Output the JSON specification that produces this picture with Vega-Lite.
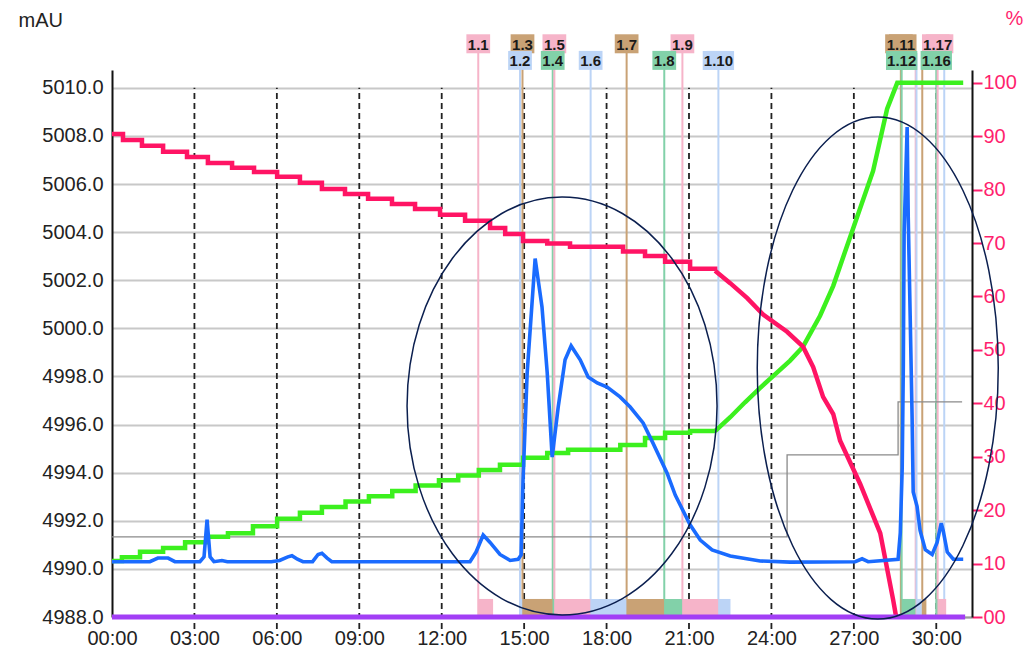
{
  "$schema": "https://vega.github.io/schema/vega-lite/v6.json",
  "width": 860,
  "height": 547,
  "autosize": {"type": "none"},
  "padding": {"left": 112, "top": 70, "right": 53, "bottom": 36},
  "background": "white",
  "config": {"view": {"stroke": null}, "font": "Liberation Sans"},
  "datasets": {
    "g3": [{"t": 3}, {"t": 6}, {"t": 9}, {"t": 12}, {"t": 15}, {"t": 18}, {"t": 21}, {"t": 24}, {"t": 27}, {"t": 30}],
    "fr": [
      {"id": "1.1", "n": 1, "t": 13.33, "end": 13.87},
      {"id": "1.2", "n": 2, "t": 14.85, "end": 14.94},
      {"id": "1.3", "n": 3, "t": 14.94, "end": 16.04},
      {"id": "1.4", "n": 4, "t": 16.04, "end": 16.1},
      {"id": "1.5", "n": 5, "t": 16.1, "end": 17.42},
      {"id": "1.6", "n": 6, "t": 17.42, "end": 18.73},
      {"id": "1.7", "n": 7, "t": 18.73, "end": 20.1},
      {"id": "1.8", "n": 8, "t": 20.1, "end": 20.76},
      {"id": "1.9", "n": 9, "t": 20.76, "end": 22.07},
      {"id": "1.10", "n": 10, "t": 22.07, "end": 22.51},
      {"id": "1.11", "n": 11, "t": 28.71, "end": 28.74},
      {"id": "1.12", "n": 12, "t": 28.74, "end": 29.25},
      {"id": "1.13", "n": 13, "t": 29.25, "end": 29.28},
      {"id": "1.14", "n": 14, "t": 29.28, "end": 29.47},
      {"id": "1.15", "n": 15, "t": 29.49, "end": 29.64},
      {"id": "1.16", "n": 16, "t": 30.0, "end": 30.05},
      {"id": "1.17", "n": 17, "t": 30.05, "end": 30.36},
      {"id": "1.18", "n": 18, "t": 30.29, "end": 30.29}
    ],
    "uv": [
      {"t": 0, "v": 4990.3}, {"t": 1.38, "v": 4990.3}, {"t": 1.67, "v": 4990.45}, {"t": 2.04, "v": 4990.45},
      {"t": 2.29, "v": 4990.3}, {"t": 3.2, "v": 4990.3}, {"t": 3.35, "v": 4990.5}, {"t": 3.46, "v": 4992.05},
      {"t": 3.57, "v": 4990.5}, {"t": 3.71, "v": 4990.3}, {"t": 4.0, "v": 4990.35}, {"t": 4.2, "v": 4990.3},
      {"t": 5.8, "v": 4990.3}, {"t": 6.1, "v": 4990.35}, {"t": 6.4, "v": 4990.5}, {"t": 6.55, "v": 4990.55},
      {"t": 6.75, "v": 4990.4}, {"t": 6.95, "v": 4990.3}, {"t": 7.3, "v": 4990.3}, {"t": 7.5, "v": 4990.6},
      {"t": 7.64, "v": 4990.65}, {"t": 7.83, "v": 4990.45}, {"t": 8.0, "v": 4990.3}, {"t": 13.03, "v": 4990.3},
      {"t": 13.25, "v": 4990.7}, {"t": 13.51, "v": 4991.41}, {"t": 13.76, "v": 4991.1}, {"t": 14.12, "v": 4990.6},
      {"t": 14.49, "v": 4990.35}, {"t": 14.78, "v": 4990.4}, {"t": 14.89, "v": 4990.58}, {"t": 14.96, "v": 4993.7},
      {"t": 15.11, "v": 4998.15}, {"t": 15.4, "v": 5002.9}, {"t": 15.65, "v": 5000.89}, {"t": 15.84, "v": 4998.15},
      {"t": 16.02, "v": 4994.65}, {"t": 16.24, "v": 4996.73}, {"t": 16.49, "v": 4998.69}, {"t": 16.71, "v": 4999.27},
      {"t": 17.04, "v": 4998.69}, {"t": 17.33, "v": 4997.98}, {"t": 17.66, "v": 4997.73}, {"t": 18.02, "v": 4997.56},
      {"t": 18.49, "v": 4997.15}, {"t": 18.86, "v": 4996.73}, {"t": 19.33, "v": 4996.07}, {"t": 19.69, "v": 4995.23},
      {"t": 20.2, "v": 4993.99}, {"t": 20.5, "v": 4993.07}, {"t": 21.04, "v": 4991.83}, {"t": 21.41, "v": 4991.2},
      {"t": 21.84, "v": 4990.79}, {"t": 22.5, "v": 4990.54}, {"t": 23.59, "v": 4990.33}, {"t": 24.68, "v": 4990.28},
      {"t": 27.05, "v": 4990.3}, {"t": 27.3, "v": 4990.42}, {"t": 27.52, "v": 4990.3}, {"t": 28.61, "v": 4990.4},
      {"t": 28.69, "v": 4991.5}, {"t": 28.76, "v": 4994.2}, {"t": 28.8, "v": 4998.4}, {"t": 28.83, "v": 5004.0},
      {"t": 28.94, "v": 5008.37}, {"t": 28.98, "v": 5004.6}, {"t": 29.05, "v": 5000.5}, {"t": 29.12, "v": 4996.3},
      {"t": 29.16, "v": 4993.2}, {"t": 29.3, "v": 4992.6}, {"t": 29.41, "v": 4991.6}, {"t": 29.6, "v": 4990.8},
      {"t": 29.85, "v": 4990.6}, {"t": 30.03, "v": 4991.1}, {"t": 30.18, "v": 4991.9}, {"t": 30.25, "v": 4991.6},
      {"t": 30.4, "v": 4990.7}, {"t": 30.62, "v": 4990.4}, {"t": 30.98, "v": 4990.4}
    ],
    "gray": [
      {"t": 0, "v": 4991.33}, {"t": 24.57, "v": 4994.74}, {"t": 28.61, "v": 4996.94}, {"t": 30.94, "v": 4996.94}
    ],
    "base": [{"t": 0, "v": 4988}, {"t": 31.05, "v": 4988}],
    "grad": [
      {"t": 0, "p": 10.5}, {"t": 0.36, "p": 11.2}, {"t": 1.02, "p": 12.2}, {"t": 1.86, "p": 12.9},
      {"t": 2.66, "p": 14.0}, {"t": 3.46, "p": 15.0}, {"t": 4.22, "p": 15.7}, {"t": 5.13, "p": 17.0},
      {"t": 6.01, "p": 18.4}, {"t": 6.84, "p": 19.5}, {"t": 7.64, "p": 20.6}, {"t": 8.5, "p": 21.6},
      {"t": 9.35, "p": 22.6}, {"t": 10.2, "p": 23.6}, {"t": 11.05, "p": 24.6}, {"t": 11.9, "p": 25.6},
      {"t": 12.6, "p": 26.5}, {"t": 13.35, "p": 27.5}, {"t": 14.12, "p": 28.5}, {"t": 14.96, "p": 29.8},
      {"t": 15.84, "p": 30.7}, {"t": 16.6, "p": 31.3}, {"t": 18.5, "p": 32.2}, {"t": 19.4, "p": 33.5},
      {"t": 20.13, "p": 34.5}, {"t": 21.04, "p": 34.8}, {"t": 21.95, "p": 34.8},
      {"t": 22.5, "p": 37.4}, {"t": 23.04, "p": 40.2}, {"t": 23.59, "p": 42.9}, {"t": 24.06, "p": 45.1},
      {"t": 24.68, "p": 48.0}, {"t": 25.15, "p": 50.6}, {"t": 25.77, "p": 56.4}, {"t": 26.25, "p": 62.0},
      {"t": 26.97, "p": 72.7}, {"t": 27.7, "p": 83.5}, {"t": 28.21, "p": 95.1}, {"t": 28.58, "p": 100},
      {"t": 30.98, "p": 100}
    ],
    "cond": [
      {"t": 0, "p": 90.4}, {"t": 0.4, "p": 89.3}, {"t": 1.09, "p": 88.2}, {"t": 1.86, "p": 87.1},
      {"t": 2.73, "p": 86.1}, {"t": 3.49, "p": 85.0}, {"t": 4.37, "p": 84.1}, {"t": 5.17, "p": 83.3},
      {"t": 6.01, "p": 82.4}, {"t": 6.84, "p": 81.3}, {"t": 7.64, "p": 80.1}, {"t": 8.48, "p": 79.2},
      {"t": 9.32, "p": 78.3}, {"t": 10.19, "p": 77.3}, {"t": 11.03, "p": 76.4}, {"t": 11.94, "p": 75.3},
      {"t": 12.85, "p": 74.2}, {"t": 13.76, "p": 72.8}, {"t": 14.31, "p": 71.7}, {"t": 14.96, "p": 70.4},
      {"t": 15.84, "p": 69.9}, {"t": 16.67, "p": 69.3}, {"t": 18.6, "p": 68.4}, {"t": 19.4, "p": 67.6},
      {"t": 20.13, "p": 66.5}, {"t": 21.04, "p": 65.2}, {"t": 21.95, "p": 64.8},
      {"t": 22.5, "p": 62.5}, {"t": 23.12, "p": 59.7}, {"t": 23.7, "p": 56.6}, {"t": 24.57, "p": 53.4},
      {"t": 25.15, "p": 50.6}, {"t": 25.52, "p": 46.8}, {"t": 25.88, "p": 41.2}, {"t": 26.25, "p": 38.0},
      {"t": 26.5, "p": 33.0}, {"t": 27.23, "p": 24.9}, {"t": 27.96, "p": 15.7}, {"t": 28.43, "p": 3.2},
      {"t": 28.54, "p": 0}
    ],
    "ell1": [{"t": 16.38, "v": 4996.77}],
    "ell2": [{"t": 27.87, "v": 4998.35}]
  },
  "encoding": {
    "x": {
      "field": "t", "type": "quantitative",
      "scale": {"domain": [0, 31.3], "nice": false, "zero": false},
      "axis": {
        "values": [0, 3, 6, 9, 12, 15, 18, 21, 24, 27, 30],
        "labelExpr": "(datum.value < 10 ? '0' : '') + datum.value + ':00'",
        "ticks": false, "grid": false, "title": null,
        "labelFontSize": 20, "labelColor": "#222", "labelPadding": 11,
        "domainColor": "#999", "domainWidth": 2,
        "labelFlush": false, "labelOverlap": false
      }
    }
  },
  "resolve": {"scale": {"y": "independent"}},
  "layer": [
    {
      "data": {"name": "g3"},
      "mark": {"type": "rule", "color": "#222", "strokeWidth": 1.8, "strokeDash": [6, 4]},
      "encoding": {
        "y": {"datum": 4987.5, "type": "quantitative", "scale": {"domain": [4988, 5010.74], "nice": false, "zero": false}, "axis": null},
        "y2": {"datum": 5010}
      }
    },
    {
      "data": {"name": "fr"},
      "mark": {"type": "rule", "strokeWidth": 2},
      "encoding": {
        "y": {"datum": 4988, "type": "quantitative", "scale": {"domain": [4988, 5010.74], "nice": false, "zero": false}, "axis": null},
        "y2": {"datum": 5011.45},
        "color": {"field": "id", "type": "nominal", "legend": null,
          "scale": {"domain": ["1.1","1.2","1.3","1.4","1.5","1.6","1.7","1.8","1.9","1.10","1.11","1.12","1.13","1.14","1.15","1.16","1.17","1.18"],
            "range": ["#F6B4C9","#BCD4F6","#C9A275","#82D1A9","#F6B4C9","#BCD4F6","#C9A275","#82D1A9","#F6B4C9","#BCD4F6","#C9A275","#82D1A9","#F6B4C9","#BCD4F6","#C9A275","#82D1A9","#F6B4C9","#BCD4F6"]}}
      }
    },
    {
      "data": {"name": "fr"},
      "mark": {"type": "rect"},
      "encoding": {
        "x2": {"field": "end"},
        "y": {"datum": 4988, "type": "quantitative", "scale": {"domain": [4988, 5010.74], "nice": false, "zero": false}, "axis": null},
        "y2": {"datum": 4988.75},
        "color": {"field": "id", "type": "nominal", "legend": null,
          "scale": {"domain": ["1.1","1.2","1.3","1.4","1.5","1.6","1.7","1.8","1.9","1.10","1.11","1.12","1.13","1.14","1.15","1.16","1.17","1.18"],
            "range": ["#F6B4C9","#BCD4F6","#C9A275","#82D1A9","#F6B4C9","#BCD4F6","#C9A275","#82D1A9","#F6B4C9","#BCD4F6","#C9A275","#82D1A9","#F6B4C9","#BCD4F6","#C9A275","#82D1A9","#F6B4C9","#BCD4F6"]}}
      }
    },
    {
      "data": {"name": "gray"},
      "mark": {"type": "line", "interpolate": "step-after", "color": "#8a8a8a", "strokeWidth": 1.3},
      "encoding": {
        "y": {"field": "v", "type": "quantitative", "scale": {"domain": [4988, 5010.74], "nice": false, "zero": false},
          "axis": {
            "orient": "left",
            "values": [4988, 4990, 4992, 4994, 4996, 4998, 5000, 5002, 5004, 5006, 5008, 5010],
            "format": ".1f", "grid": true, "gridColor": "#c8c8c8", "gridWidth": 2,
            "ticks": false, "labelFontSize": 20, "labelColor": "#222", "labelPadding": 9,
            "domainColor": "#111", "domainWidth": 2,
            "title": "mAU", "titleAngle": 0, "titleX": -94, "titleY": -50, "titleAlign": "left",
            "titleBaseline": "middle", "titleFontSize": 20, "titleFontWeight": "normal", "titleColor": "#222",
            "labelFlush": false, "labelOverlap": false
          }}
      }
    },
    {
      "data": {"name": "grad"},
      "transform": [{"filter": "datum.t <= 21.95"}],
      "mark": {"type": "line", "interpolate": "step-after", "color": "#3CF01E", "strokeWidth": 4.5},
      "encoding": {
        "y": {"field": "p", "type": "quantitative", "scale": {"domain": [0, 102.4], "nice": false, "zero": false}, "axis": null}
      }
    },
    {
      "data": {"name": "grad"},
      "transform": [{"filter": "datum.t >= 21.95"}],
      "mark": {"type": "line", "color": "#3CF01E", "strokeWidth": 4.5},
      "encoding": {
        "y": {"field": "p", "type": "quantitative", "scale": {"domain": [0, 102.4], "nice": false, "zero": false}, "axis": null}
      }
    },
    {
      "data": {"name": "cond"},
      "transform": [{"filter": "datum.t <= 21.95"}],
      "mark": {"type": "line", "interpolate": "step-after", "color": "#FF1464", "strokeWidth": 4.5},
      "encoding": {
        "y": {"field": "p", "type": "quantitative", "scale": {"domain": [0, 102.4], "nice": false, "zero": false},
          "axis": {
            "orient": "right",
            "values": [0, 10, 20, 30, 40, 50, 60, 70, 80, 90, 100],
            "labelExpr": "datum.value == 0 ? '00' : datum.label",
            "grid": false, "tickColor": "#FF1F6E", "tickSize": 10, "tickWidth": 2,
            "labelColor": "#FF1F6E", "labelFontSize": 20, "labelPadding": 1,
            "domainColor": "#111", "domainWidth": 2,
            "title": "%", "titleAngle": 0, "titleX": 33, "titleY": -52, "titleAlign": "left",
            "titleBaseline": "middle", "titleColor": "#FF1F6E", "titleFontSize": 20, "titleFontWeight": "normal",
            "labelFlush": false, "labelOverlap": false
          }}
      }
    },
    {
      "data": {"name": "cond"},
      "transform": [{"filter": "datum.t >= 21.95"}],
      "mark": {"type": "line", "color": "#FF1464", "strokeWidth": 4.5},
      "encoding": {
        "y": {"field": "p", "type": "quantitative", "scale": {"domain": [0, 102.4], "nice": false, "zero": false}, "axis": null}
      }
    },
    {
      "data": {"name": "uv"},
      "mark": {"type": "line", "color": "#1A6BFF", "strokeWidth": 3.6},
      "encoding": {
        "y": {"field": "v", "type": "quantitative", "scale": {"domain": [4988, 5010.74], "nice": false, "zero": false}, "axis": null}
      }
    },
    {
      "data": {"name": "base"},
      "mark": {"type": "line", "color": "#A23EF5", "strokeWidth": 5},
      "encoding": {
        "y": {"field": "v", "type": "quantitative", "scale": {"domain": [4988, 5010.74], "nice": false, "zero": false}, "axis": null}
      }
    },
    {
      "data": {"name": "ell1"},
      "mark": {"type": "point", "filled": false, "color": "#0B1F4F", "strokeWidth": 1.5, "opacity": 1, "size": 96100,
        "shape": "M1,0C1,0.7445 0.5523,1.348 0,1.348C-0.5523,1.348 -1,0.7445 -1,0C-1,-0.7445 -0.5523,-1.348 0,-1.348C0.5523,-1.348 1,-0.7445 1,0Z"},
      "encoding": {
        "y": {"field": "v", "type": "quantitative", "scale": {"domain": [4988, 5010.74], "nice": false, "zero": false}, "axis": null}
      }
    },
    {
      "data": {"name": "ell2"},
      "mark": {"type": "point", "filled": false, "color": "#0B1F4F", "strokeWidth": 1.5, "opacity": 1, "size": 58081,
        "shape": "M1,0C1,1.1505 0.5523,2.083 0,2.083C-0.5523,2.083 -1,1.1505 -1,0C-1,-1.1505 -0.5523,-2.083 0,-2.083C0.5523,-2.083 1,-1.1505 1,0Z"},
      "encoding": {
        "y": {"field": "v", "type": "quantitative", "scale": {"domain": [4988, 5010.74], "nice": false, "zero": false}, "axis": null}
      }
    },
    {
      "data": {"name": "fr"},
      "transform": [{"filter": "indexof(['1.13','1.14','1.15','1.18'], datum.id) < 0 && datum.n % 2 == 1"}],
      "mark": {"type": "point", "filled": true, "opacity": 1, "size": 361, "strokeWidth": 0,
        "shape": "M-1.25,-1L1.25,-1L1.25,1L-1.25,1Z"},
      "encoding": {
        "y": {"datum": 5011.83, "type": "quantitative", "scale": {"domain": [4988, 5010.74], "nice": false, "zero": false}, "axis": null},
        "color": {"field": "id", "type": "nominal", "legend": null,
          "scale": {"domain": ["1.1","1.2","1.3","1.4","1.5","1.6","1.7","1.8","1.9","1.10","1.11","1.12","1.13","1.14","1.15","1.16","1.17","1.18"],
            "range": ["#F6B4C9","#BCD4F6","#C9A275","#82D1A9","#F6B4C9","#BCD4F6","#C9A275","#82D1A9","#F6B4C9","#BCD4F6","#C9A275","#82D1A9","#F6B4C9","#BCD4F6","#C9A275","#82D1A9","#F6B4C9","#BCD4F6"]}}
      }
    },
    {
      "data": {"name": "fr"},
      "transform": [{"filter": "indexof(['1.13','1.14','1.15','1.18'], datum.id) < 0 && datum.n % 2 == 1 && length(datum.id) > 3"}],
      "mark": {"type": "point", "filled": true, "opacity": 1, "size": 361, "strokeWidth": 0,
        "shape": "M-1.65,-1L1.65,-1L1.65,1L-1.65,1Z"},
      "encoding": {
        "y": {"datum": 5011.83, "type": "quantitative", "scale": {"domain": [4988, 5010.74], "nice": false, "zero": false}, "axis": null},
        "color": {"field": "id", "type": "nominal", "legend": null,
          "scale": {"domain": ["1.1","1.2","1.3","1.4","1.5","1.6","1.7","1.8","1.9","1.10","1.11","1.12","1.13","1.14","1.15","1.16","1.17","1.18"],
            "range": ["#F6B4C9","#BCD4F6","#C9A275","#82D1A9","#F6B4C9","#BCD4F6","#C9A275","#82D1A9","#F6B4C9","#BCD4F6","#C9A275","#82D1A9","#F6B4C9","#BCD4F6","#C9A275","#82D1A9","#F6B4C9","#BCD4F6"]}}
      }
    },
    {
      "data": {"name": "fr"},
      "transform": [{"filter": "indexof(['1.13','1.14','1.15','1.18'], datum.id) < 0 && datum.n % 2 == 1"}],
      "mark": {"type": "text", "fontSize": 15, "fontWeight": "bold", "color": "#1a1a1a", "align": "center", "baseline": "middle", "dy": 1},
      "encoding": {
        "y": {"datum": 5011.83, "type": "quantitative", "scale": {"domain": [4988, 5010.74], "nice": false, "zero": false}, "axis": null},
        "text": {"field": "id"}
      }
    },
    {
      "data": {"name": "fr"},
      "transform": [{"filter": "indexof(['1.13','1.14','1.15','1.18'], datum.id) < 0 && datum.n % 2 == 0"}],
      "mark": {"type": "point", "filled": true, "opacity": 1, "size": 361, "strokeWidth": 0,
        "shape": "M-1.25,-1L1.25,-1L1.25,1L-1.25,1Z"},
      "encoding": {
        "y": {"datum": 5011.14, "type": "quantitative", "scale": {"domain": [4988, 5010.74], "nice": false, "zero": false}, "axis": null},
        "color": {"field": "id", "type": "nominal", "legend": null,
          "scale": {"domain": ["1.1","1.2","1.3","1.4","1.5","1.6","1.7","1.8","1.9","1.10","1.11","1.12","1.13","1.14","1.15","1.16","1.17","1.18"],
            "range": ["#F6B4C9","#BCD4F6","#C9A275","#82D1A9","#F6B4C9","#BCD4F6","#C9A275","#82D1A9","#F6B4C9","#BCD4F6","#C9A275","#82D1A9","#F6B4C9","#BCD4F6","#C9A275","#82D1A9","#F6B4C9","#BCD4F6"]}}
      }
    },
    {
      "data": {"name": "fr"},
      "transform": [{"filter": "indexof(['1.13','1.14','1.15','1.18'], datum.id) < 0 && datum.n % 2 == 0 && length(datum.id) > 3"}],
      "mark": {"type": "point", "filled": true, "opacity": 1, "size": 361, "strokeWidth": 0,
        "shape": "M-1.65,-1L1.65,-1L1.65,1L-1.65,1Z"},
      "encoding": {
        "y": {"datum": 5011.14, "type": "quantitative", "scale": {"domain": [4988, 5010.74], "nice": false, "zero": false}, "axis": null},
        "color": {"field": "id", "type": "nominal", "legend": null,
          "scale": {"domain": ["1.1","1.2","1.3","1.4","1.5","1.6","1.7","1.8","1.9","1.10","1.11","1.12","1.13","1.14","1.15","1.16","1.17","1.18"],
            "range": ["#F6B4C9","#BCD4F6","#C9A275","#82D1A9","#F6B4C9","#BCD4F6","#C9A275","#82D1A9","#F6B4C9","#BCD4F6","#C9A275","#82D1A9","#F6B4C9","#BCD4F6","#C9A275","#82D1A9","#F6B4C9","#BCD4F6"]}}
      }
    },
    {
      "data": {"name": "fr"},
      "transform": [{"filter": "indexof(['1.13','1.14','1.15','1.18'], datum.id) < 0 && datum.n % 2 == 0"}],
      "mark": {"type": "text", "fontSize": 15, "fontWeight": "bold", "color": "#1a1a1a", "align": "center", "baseline": "middle", "dy": 1},
      "encoding": {
        "y": {"datum": 5011.14, "type": "quantitative", "scale": {"domain": [4988, 5010.74], "nice": false, "zero": false}, "axis": null},
        "text": {"field": "id"}
      }
    },
    {
      "mark": {"type": "rule", "color": "#111", "strokeWidth": 2},
      "encoding": {
        "x": {"datum": 31.3, "type": "quantitative"},
        "y": {"datum": 4986.6, "type": "quantitative", "scale": {"domain": [4988, 5010.74], "nice": false, "zero": false}, "axis": null},
        "y2": {"datum": 4988}
      }
    },
    {
      "mark": {"type": "point", "shape": "triangle-up", "filled": true, "fill": "white", "stroke": "#111", "strokeWidth": 1.3, "opacity": 1, "size": 90},
      "encoding": {
        "x": {"datum": 0, "type": "quantitative"},
        "y": {"datum": 5010.62, "type": "quantitative", "scale": {"domain": [4988, 5010.74], "nice": false, "zero": false}, "axis": null}
      }
    },
    {
      "mark": {"type": "point", "shape": "triangle-up", "filled": true, "fill": "white", "stroke": "#111", "strokeWidth": 1.3, "opacity": 1, "size": 90},
      "encoding": {
        "x": {"datum": 31.3, "type": "quantitative"},
        "y": {"datum": 5010.62, "type": "quantitative", "scale": {"domain": [4988, 5010.74], "nice": false, "zero": false}, "axis": null}
      }
    }
  ]
}
